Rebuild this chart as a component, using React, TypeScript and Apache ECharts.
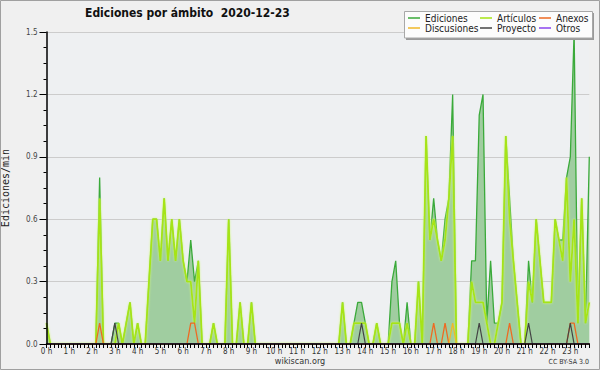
import React, { useEffect, useRef } from "react";
import * as echarts from "echarts";

// 10-minute buckets, 144 per day, values in edits/min
const ediciones = [
  0.1, 0, 0, 0, 0, 0, 0, 0, 0, 0, 0, 0,
  0, 0, 0.8, 0, 0, 0, 0.1, 0.1, 0, 0.1, 0.2, 0,
  0.1, 0, 0, 0.3, 0.6, 0.6, 0.4, 0.7, 0.4, 0.6, 0.4, 0.6,
  0.4, 0.3, 0.5, 0.3, 0.4, 0, 0, 0, 0.1, 0, 0, 0,
  0.6, 0, 0, 0.2, 0, 0, 0.2, 0, 0, 0, 0, 0,
  0, 0, 0, 0, 0, 0, 0, 0, 0, 0, 0, 0,
  0, 0, 0, 0, 0, 0, 0.2, 0, 0, 0.1, 0.2, 0.2,
  0.1, 0, 0, 0.1, 0, 0, 0, 0.3, 0.4, 0.1, 0, 0.2,
  0, 0, 0.3, 0, 1.0, 0.5, 0.7, 0.5, 0.4, 0.6, 0.7, 1.2,
  0, 0, 0, 0, 0.4, 0.4, 1.1, 1.2, 0.1, 0.4, 0.1, 0.1,
  0.2, 1.0, 0.7, 0.4, 0.2, 0, 0, 0.4, 0.2, 0.6, 0.4, 0.2,
  0.2, 0.2, 0.6, 0.5, 0.5, 0.8, 0.9, 1.5, 0.1, 0.7, 0.1, 0.9,
];

const articulos = [
  0.1, 0, 0, 0, 0, 0, 0, 0, 0, 0, 0, 0,
  0, 0, 0.7, 0, 0, 0, 0, 0.1, 0, 0.1, 0.2, 0,
  0.1, 0, 0, 0.3, 0.6, 0.6, 0.4, 0.7, 0.4, 0.6, 0.4, 0.6,
  0.4, 0.3, 0.3, 0.1, 0.4, 0, 0, 0, 0.1, 0, 0, 0,
  0.6, 0, 0, 0.2, 0, 0, 0.2, 0, 0, 0, 0, 0,
  0, 0, 0, 0, 0, 0, 0, 0, 0, 0, 0, 0,
  0, 0, 0, 0, 0, 0, 0.2, 0, 0, 0.1, 0.1, 0.1,
  0.1, 0, 0, 0.1, 0, 0, 0, 0.1, 0.1, 0.1, 0, 0.1,
  0, 0, 0.3, 0, 1.0, 0.5, 0.6, 0.5, 0.4, 0.5, 0.7, 1.0,
  0, 0, 0, 0, 0.3, 0.2, 0.2, 0.2, 0.1, 0, 0, 0.1,
  0.2, 1.0, 0.6, 0.4, 0.2, 0, 0, 0.3, 0.2, 0.6, 0.4, 0.2,
  0.2, 0.2, 0.6, 0.5, 0.4, 0.8, 0.3, 0.6, 0.1, 0.7, 0.1, 0.2,
];

const anexos = [
  0, 0, 0, 0, 0, 0, 0, 0, 0, 0, 0, 0,
  0, 0, 0.1, 0, 0, 0, 0, 0, 0, 0, 0, 0,
  0, 0, 0, 0, 0, 0, 0, 0, 0, 0, 0, 0,
  0, 0, 0.1, 0.1, 0, 0, 0, 0, 0, 0, 0, 0,
  0, 0, 0, 0, 0, 0, 0, 0, 0, 0, 0, 0,
  0, 0, 0, 0, 0, 0, 0, 0, 0, 0, 0, 0,
  0, 0, 0, 0, 0, 0, 0, 0, 0, 0, 0, 0,
  0, 0, 0, 0, 0, 0, 0, 0, 0, 0, 0, 0,
  0, 0, 0, 0, 0, 0, 0.1, 0, 0, 0.1, 0, 0,
  0, 0, 0, 0, 0, 0, 0, 0, 0, 0, 0, 0,
  0, 0, 0.1, 0, 0, 0, 0, 0, 0, 0, 0, 0,
  0, 0, 0, 0, 0, 0, 0.1, 0.1, 0, 0, 0, 0,
];

const discusiones = [
  0, 0, 0, 0, 0, 0, 0, 0, 0, 0, 0, 0,
  0, 0, 0, 0, 0, 0, 0, 0, 0, 0, 0, 0,
  0, 0, 0, 0, 0, 0, 0, 0, 0, 0, 0, 0,
  0, 0, 0, 0, 0, 0, 0, 0, 0, 0, 0, 0,
  0, 0, 0, 0, 0, 0, 0, 0, 0, 0, 0, 0,
  0, 0, 0, 0, 0, 0, 0, 0, 0, 0, 0, 0,
  0, 0, 0, 0, 0, 0, 0, 0, 0, 0, 0, 0,
  0, 0, 0, 0, 0, 0, 0, 0, 0, 0, 0, 0,
  0, 0, 0, 0, 0, 0, 0, 0, 0, 0, 0, 0.1,
  0, 0, 0, 0, 0, 0, 0, 0, 0, 0, 0, 0,
  0, 0, 0, 0, 0, 0, 0, 0, 0, 0, 0, 0,
  0, 0, 0, 0, 0, 0, 0, 0, 0, 0, 0, 0,
];

const proyecto = [
  0, 0, 0, 0, 0, 0, 0, 0, 0, 0, 0, 0,
  0, 0, 0, 0, 0, 0, 0.1, 0, 0, 0, 0, 0,
  0, 0, 0, 0, 0, 0, 0, 0, 0, 0, 0, 0,
  0, 0, 0, 0, 0, 0, 0, 0, 0, 0, 0, 0,
  0, 0, 0, 0, 0, 0, 0, 0, 0, 0, 0, 0,
  0, 0, 0, 0, 0, 0, 0, 0, 0, 0, 0, 0,
  0, 0, 0, 0, 0, 0, 0, 0, 0, 0, 0, 0.1,
  0, 0, 0, 0, 0, 0, 0, 0, 0, 0, 0, 0,
  0, 0, 0, 0, 0, 0, 0, 0, 0, 0, 0, 0,
  0, 0, 0, 0, 0, 0, 0.1, 0, 0, 0, 0, 0,
  0, 0, 0, 0, 0, 0, 0, 0.1, 0, 0, 0, 0,
  0, 0, 0, 0, 0, 0, 0.1, 0, 0, 0, 0, 0,
];

const otros = [
  0, 0, 0, 0, 0, 0, 0, 0, 0, 0, 0, 0,
  0, 0, 0, 0, 0, 0, 0, 0, 0, 0, 0, 0,
  0, 0, 0, 0, 0, 0, 0, 0, 0, 0, 0, 0,
  0, 0, 0, 0, 0, 0, 0, 0, 0, 0, 0, 0,
  0, 0, 0, 0, 0, 0, 0, 0, 0, 0, 0, 0,
  0, 0, 0, 0, 0, 0, 0, 0, 0, 0, 0, 0,
  0, 0, 0, 0, 0, 0, 0, 0, 0, 0, 0, 0,
  0, 0, 0, 0, 0, 0, 0, 0, 0, 0, 0, 0,
  0, 0, 0, 0, 0, 0, 0, 0, 0, 0, 0, 0,
  0, 0, 0, 0, 0, 0, 0, 0, 0, 0, 0, 0,
  0, 0, 0, 0, 0, 0, 0, 0, 0, 0, 0, 0,
  0, 0, 0, 0, 0, 0, 0, 0, 0, 0, 0, 0,
];

const timeSlots = ediciones.map((_, i) => {
  const h = Math.floor(i / 6);
  const m = (i % 6) * 10;
  return `${h}:${m === 0 ? "00" : m}`;
});

const yTicks = [0, 0.3, 0.6, 0.9, 1.2, 1.5];

const FONT = "'DejaVu Sans Condensed', 'DejaVu Sans', sans-serif";

export default function App() {
  const ref = useRef<HTMLDivElement>(null);

  useEffect(() => {
    document.body.style.margin = "0";
    if (!ref.current) return;
    const chart = echarts.init(ref.current, null, { renderer: "svg" });

    const lineSeries = (name: string, data: number[], color: string, width: number, z: number, extra: any = {}) => ({
      name,
      type: "line",
      data,
      xAxisIndex: 0,
      yAxisIndex: 0,
      symbol: "none",
      showSymbol: false,
      smooth: false,
      z,
      color,
      lineStyle: { color, width },
      emphasis: { disabled: true },
      ...extra,
    });

    const legendCommon = {
      orient: "vertical",
      top: 13,
      padding: 0,
      itemGap: 0,
      itemWidth: 12,
      itemHeight: 1.5,
      icon: "rect",
      textStyle: { fontFamily: FONT, fontSize: 10, lineHeight: 10, color: "#222" },
      z: 20,
    };

    chart.setOption({
      animation: false,
      backgroundColor: "#f0f0f0",
      textStyle: { fontFamily: FONT },
      title: {
        text: "Ediciones por ámbito  2020-12-23",
        left: 85,
        top: 7,
        padding: 0,
        textStyle: { fontFamily: FONT, fontSize: 12, fontWeight: "bold", color: "#111" },
      },
      legend: [
        { ...legendCommon, left: 408, data: ["Ediciones", "Discusiones"] },
        { ...legendCommon, left: 480, data: ["Artículos", "Proyecto"] },
        { ...legendCommon, left: 539, data: ["Anexos", "Otros"] },
      ],
      grid: {
        left: 46.5,
        right: 10.7,
        top: 32,
        bottom: 26,
        containLabel: false,
        outerBoundsMode: "none",
        show: true,
        backgroundColor: "#eef0f2",
        borderWidth: 0,
      },
      xAxis: [
        {
          type: "category",
          data: timeSlots,
          boundaryGap: false,
          z: 10,
          axisLine: { show: true, lineStyle: { color: "#000", width: 1.5 } },
          axisTick: { show: true, interval: 0, length: 4, lineStyle: { color: "#000", width: 1 } },
          axisLabel: {
            interval: (i: number) => i % 6 === 0,
            formatter: (v: string) => `${v.split(":")[0]} h`,
            fontFamily: FONT,
            fontSize: 8,
            color: "#333",
            margin: 3,
          },
          splitLine: { show: false },
        },
      ],
      yAxis: [
        {
          type: "value",
          min: 0,
          max: 1.5,
          interval: 0.3,
          z: 0,
          axisLine: { show: false },
          axisTick: { show: false },
          axisLabel: { show: false },
          splitLine: { show: true, lineStyle: { color: "#cccccc", width: 1 } },
        },
        {
          type: "value",
          min: 0,
          max: 1.5,
          interval: 0.3,
          position: "left",
          z: 10,
          name: "Ediciones/min",
          nameLocation: "middle",
          nameGap: 36,
          nameTextStyle: { fontFamily: "'DejaVu Sans Mono', monospace", fontSize: 10, color: "#222" },
          axisLine: { show: true, lineStyle: { color: "#000", width: 1.5 } },
          axisTick: { show: true, length: 7, lineStyle: { color: "#000" } },
          minorTick: { show: true, splitNumber: 4, length: 3, lineStyle: { color: "#000" } },
          axisLabel: {
            formatter: (v: number) => (yTicks.includes(Math.round(v * 10) / 10) ? v.toFixed(1) : ""),
            fontFamily: FONT,
            fontSize: 8,
            color: "#444",
            margin: 9,
          },
          splitLine: { show: false },
        },
      ],
      series: [
        lineSeries("Ediciones", ediciones, "#3aaa3a", 1.3, 2, {
          areaStyle: { color: "#a0cda0", opacity: 1 },
        }),
        lineSeries("Artículos", articulos, "#a6e414", 1.8, 3, {
          lineStyle: { color: "#a6e414", width: 1.8, shadowColor: "rgba(210,250,120,0.9)", shadowBlur: 2 },
        }),
        lineSeries("Anexos", anexos, "#ee6a22", 1.3, 4),
        lineSeries("Discusiones", discusiones, "#f0b828", 1.3, 4),
        lineSeries("Proyecto", proyecto, "#444444", 1.2, 4),
        lineSeries("Otros", otros, "#8a44ee", 1.2, 4),
      ],
      graphic: [
        {
          type: "rect",
          shape: { x: 0.5, y: 0.5, width: 599, height: 369 },
          style: { fill: "none", stroke: "#a0a0a0", lineWidth: 1 },
          z: 30,
          silent: true,
        },
        {
          type: "rect",
          shape: { x: 406, y: 13, width: 188, height: 27 },
          style: { fill: "#9a9a9a" },
          z: 15,
          silent: true,
        },
        {
          type: "rect",
          shape: { x: 404.5, y: 11.5, width: 188, height: 26.5 },
          style: { fill: "#fcfcfc", stroke: "#a8a8a8", lineWidth: 1 },
          z: 16,
          silent: true,
        },
        {
          type: "text",
          x: 300,
          y: 361,
          style: {
            text: "wikiscan.org",
            fontFamily: FONT,
            fontSize: 9,
            fill: "#333",
            align: "center",
            verticalAlign: "middle",
          },
          z: 20,
        },
        {
          type: "text",
          x: 589,
          y: 362,
          style: {
            text: "CC BY-SA 3.0",
            fontFamily: FONT,
            fontSize: 7,
            fill: "#333",
            align: "right",
            verticalAlign: "middle",
          },
          z: 20,
        },
      ],
    });

    return () => chart.dispose();
  }, []);

  return <div ref={ref} style={{ width: 600, height: 370 }} />;
}
